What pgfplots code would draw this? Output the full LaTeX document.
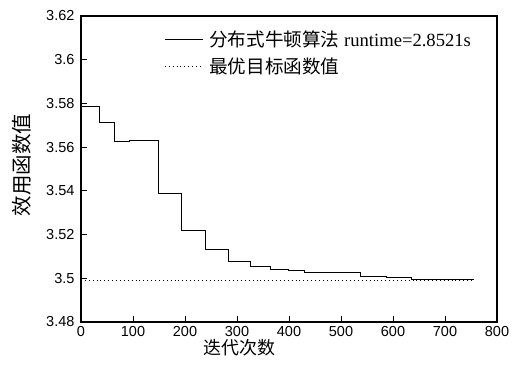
\documentclass[border=0pt]{standalone}
\usepackage{fontspec}
\usepackage{pgfplots}
\pgfplotsset{compat=1.18}
\setmainfont{Liberation Serif}
\newfontfamily\cjk{Noto Sans CJK SC}
\newfontfamily\arial{Liberation Sans}
\begin{document}
\begin{tikzpicture}
\useasboundingbox (-81pt,-43pt) rectangle (438pt,322pt);
\begin{axis}[
  at={(0pt,0pt)}, anchor=south west,
  scale only axis, width=416pt, height=306pt,
  xmin=0, xmax=800, ymin=3.48, ymax=3.62,
  xtick={0,100,...,800},
  ytick={3.48,3.50,3.52,3.54,3.56,3.58,3.60,3.62},
  yticklabels={3.48,3.5,3.52,3.54,3.56,3.58,3.6,3.62},
  xtick pos=left, ytick pos=left,
  tick align=inside,
  major tick length=6pt,
  axis line style={line width=1.2pt},
  every tick/.style={line width=0.9pt, black},
  /pgf/number format/assume math mode=true,
  ticklabel style={font=\fontsize{14.5}{16}\arial},
  xticklabel style={yshift=-1pt},
  yticklabel style={xshift=-3pt},
  xlabel={\cjk 迭代次数},
  ylabel={\cjk 效用函数值},
  xlabel style={font=\fontsize{18}{20}\selectfont, at={(axis description cs:0.382,-0.045)}, anchor=north},
  ylabel style={font=\fontsize{20.5}{22}\selectfont, at={(axis description cs:-0.142,0.513)}, anchor=center, rotate=0},
  legend style={at={(axis description cs:0.2,0.96)}, anchor=north west, draw=none, fill=none,
    font=\fontsize{18.6}{22}\selectfont, inner sep=0pt, row sep=6pt},
  legend cell align=left,
  legend image code/.code={\draw[#1] (0pt,0pt) -- (38pt,0pt); \path (42pt,0pt);},
]
\addplot[const plot, black, line width=0.9pt] coordinates {
(0,3.5784) (35,3.5712) (65,3.5624) (93,3.5631) (149,3.5387) (194,3.5220)
(240,3.5130) (284,3.5076) (325,3.5055) (365,3.5041) (399,3.5037) (430,3.5027)
(537,3.5009) (588,3.5002) (635,3.4993) (756,3.4993)
};
\addlegendentry{{\cjk 分布式牛顿算法} runtime=2.8521s}
\addplot[black, line width=0.8pt, dash pattern=on 0.9pt off 3pt] coordinates {
(0,3.4990) (756,3.4990)
};
\addlegendentry{{\cjk 最优目标函数值}}
\end{axis}
\end{tikzpicture}
\end{document}
